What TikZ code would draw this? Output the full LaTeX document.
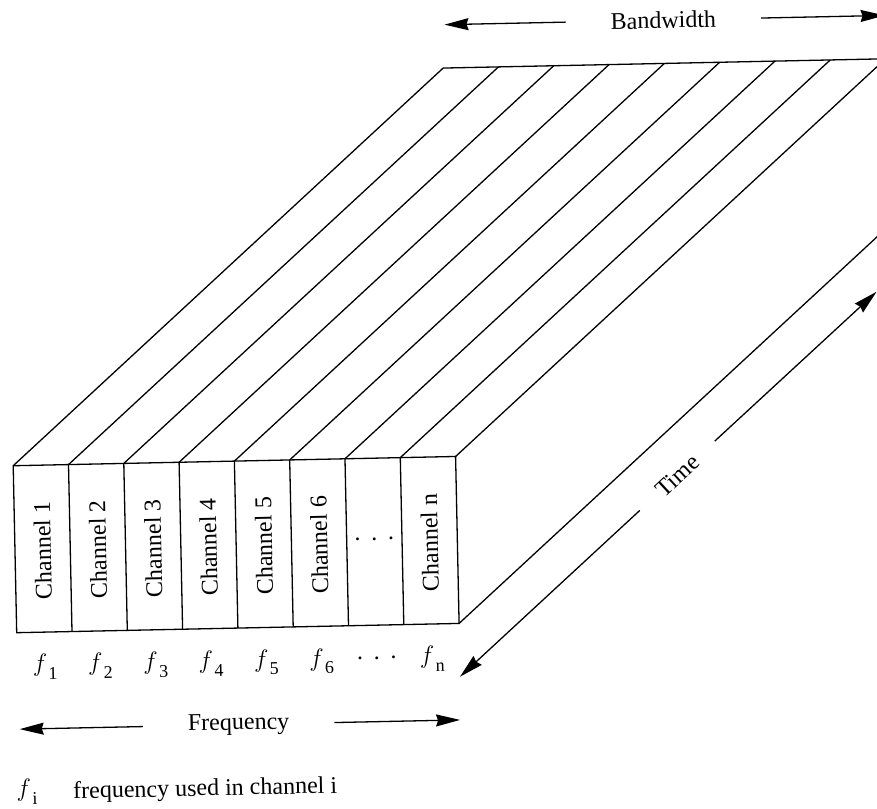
\documentclass[tikz,border=0pt]{standalone}
\usepackage{fontspec}
\setmainfont{Liberation Serif}
\usetikzlibrary{arrows.meta}

% lowered subscript for the channel frequencies
\newcommand\chsub[1]{\kern1pt\raisebox{-8pt}{\fontsize{18}{18}\selectfont #1}}
% row of three spaced dots
\newcommand\dotsrow{.\hspace{10.7pt}.\hspace{10.7pt}.}

\begin{document}
\begin{tikzpicture}[x=1pt, y=1pt,
  edge/.style={line width=1.3pt, line join=miter},
  dimarrow/.style={line width=1.3pt, -{Stealth[length=24pt, width=12pt, inset=2pt]}},
  lbl/.style={font=\fontsize{24}{28}\selectfont, inner sep=0pt, text=black}]

\clip (0,0) rectangle (877,808);

\begin{scope}[shift={(16.7,175.3)}, rotate=1.2, transform shape]
  \def\slabW{442.5}
  \def\slabH{167}
  \def\depx{438.2}
  \def\depy{388.6}

  % front face with the channel cells
  \draw[edge] (0,0) rectangle (\slabW,\slabH);
  \foreach \i in {1,...,7}
    \draw[edge] ({\i*\slabW/8},0) -- ({\i*\slabW/8},\slabH);

  % top face: receding channel boundaries and back edge
  \foreach \i in {0,...,8}
    \draw[edge] ({\i*\slabW/8},\slabH) -- ++(\depx,\depy);
  \draw[edge] (\depx,\slabH+\depy) -- ++(\slabW,0);

  % right face
  \draw[edge] (\slabW,0) -- ++(\depx,\depy) -- ++(0,\slabH);

  % channel labels
  \foreach \i in {1,...,6}
    \node[lbl, rotate=90] (ch\i) at ({(\i-0.5)*\slabW/8},81.5) {Channel \i};
  \node[lbl] (ch7) at ({6.5*\slabW/8},86) {\dotsrow};
  \node[lbl, rotate=90] (ch8) at ({7.5*\slabW/8},81.5) {Channel n};

  % channel frequencies
  \foreach \i in {1,...,6}
    \node[lbl, anchor=base] (f\i) at ({(\i-0.5)*\slabW/8},-39.5) {$f$\chsub{\i}};
  \node[lbl] (f7) at ({6.5*\slabW/8},-33) {\dotsrow};
  \node[lbl, anchor=base] (f8) at ({7.5*\slabW/8},-39.5) {$f$\chsub{n}};

  % frequency axis
  \node[lbl, inner xsep=45pt] (freq) at (220,-96.5) {Frequency};
  \coordinate (freqL) at (1,-96.5);
  \coordinate (freqR) at (441.5,-96.5);
  \draw[dimarrow] (freq.west) -- (freqL);
  \draw[dimarrow] (freq.east) -- (freqR);

  % bandwidth axis
  \node[lbl, inner xsep=45pt] (bw) at (659.4,599) {Bandwidth};
  \coordinate (bwL) at (440.5,599);
  \coordinate (bwR) at (880.7,599);
  \draw[dimarrow] (bw.west) -- (bwL);
  \draw[dimarrow] (bw.east) -- (bwR);

  % time axis
  \node[lbl, rotate=41.56, inner xsep=26pt] (time) at (663.8,143.1) {Time};
  \coordinate (timeA) at (442.3,-53.3);
  \coordinate (timeB) at (866.9,322.9);
  \draw[dimarrow] (time.west) -- (timeA);
  \draw[dimarrow] (time.east) -- (timeB);

  % legend
  \node[lbl, anchor=base] (fi) at (6.9,-164) {$f$\chsub{i}};
  \node[lbl, anchor=base west] (legend) at (53,-167) {frequency used in channel i};
\end{scope}
\end{tikzpicture}
\end{document}
